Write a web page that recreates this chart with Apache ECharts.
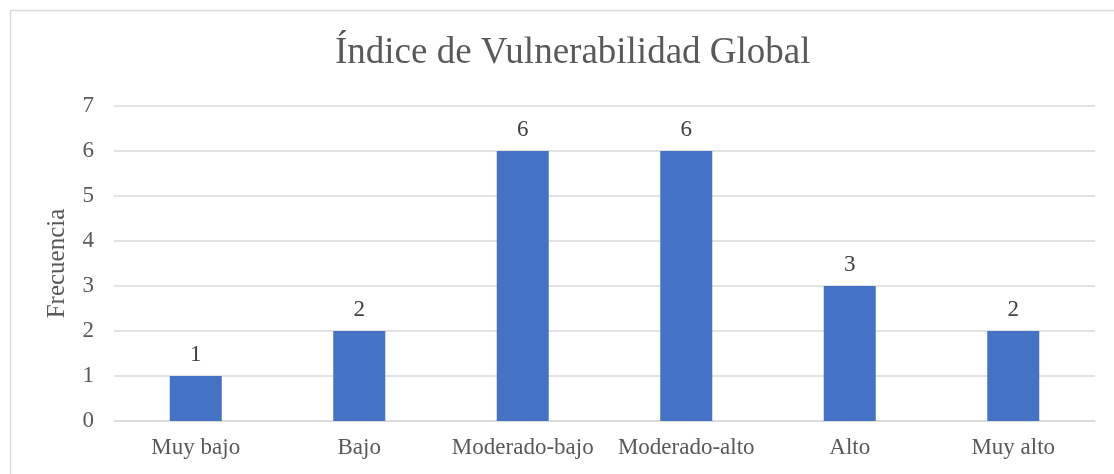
<!DOCTYPE html>
<html><head><meta charset="utf-8">
<script src="https://cdn.jsdelivr.net/npm/echarts@6/dist/echarts.min.js"></script>
<style>html,body{margin:0;padding:0;background:#fff}#c{width:1114px;height:474px}</style>
</head><body><div id="c"></div>
<script>
const categories = ['Muy bajo','Bajo','Moderado-bajo','Moderado-alto','Alto','Muy alto'];
const values = [1,2,6,6,3,2];
const titleText = 'Índice de Vulnerabilidad Global';
const yName = 'Frecuencia';
const font = '"Liberation Serif","Times New Roman",serif';
const chart = echarts.init(document.getElementById('c'));
chart.setOption({
  animation:false,
  graphic:[{type:'rect',shape:{x:10.5,y:10.5,width:1300,height:700},style:{fill:'none',stroke:'#d9d9d9',lineWidth:1.5},silent:true}],
  title:{text:titleText,left:330,top:30,textStyle:{fontFamily:font,fontSize:37,fontWeight:'normal',color:'#595959'}},
  grid:{left:114,right:19,top:106,bottom:53},
  xAxis:{type:'category',data:categories,axisTick:{show:false},axisLine:{lineStyle:{color:'#d9d9d9',width:1.5}},
    axisLabel:{fontFamily:font,fontSize:23,color:'#595959',margin:15,interval:0,hideOverlap:false}},
  yAxis:{type:'value',min:0,max:7,interval:1,name:yName,nameLocation:'middle',nameGap:44,
    nameTextStyle:{fontFamily:font,fontSize:25,color:'#595959'},
    axisLine:{show:false},axisTick:{show:false},
    splitLine:{lineStyle:{color:'#d9d9d9',width:1.5}},
    axisLabel:{fontFamily:font,fontSize:23,color:'#595959',margin:20}},
  series:[{type:'bar',data:values,barWidth:52,itemStyle:{color:'#4472C4'},
    label:{show:true,position:'top',distance:10,fontFamily:font,fontSize:23,color:'#404040'}}]
});
</script></body></html>
